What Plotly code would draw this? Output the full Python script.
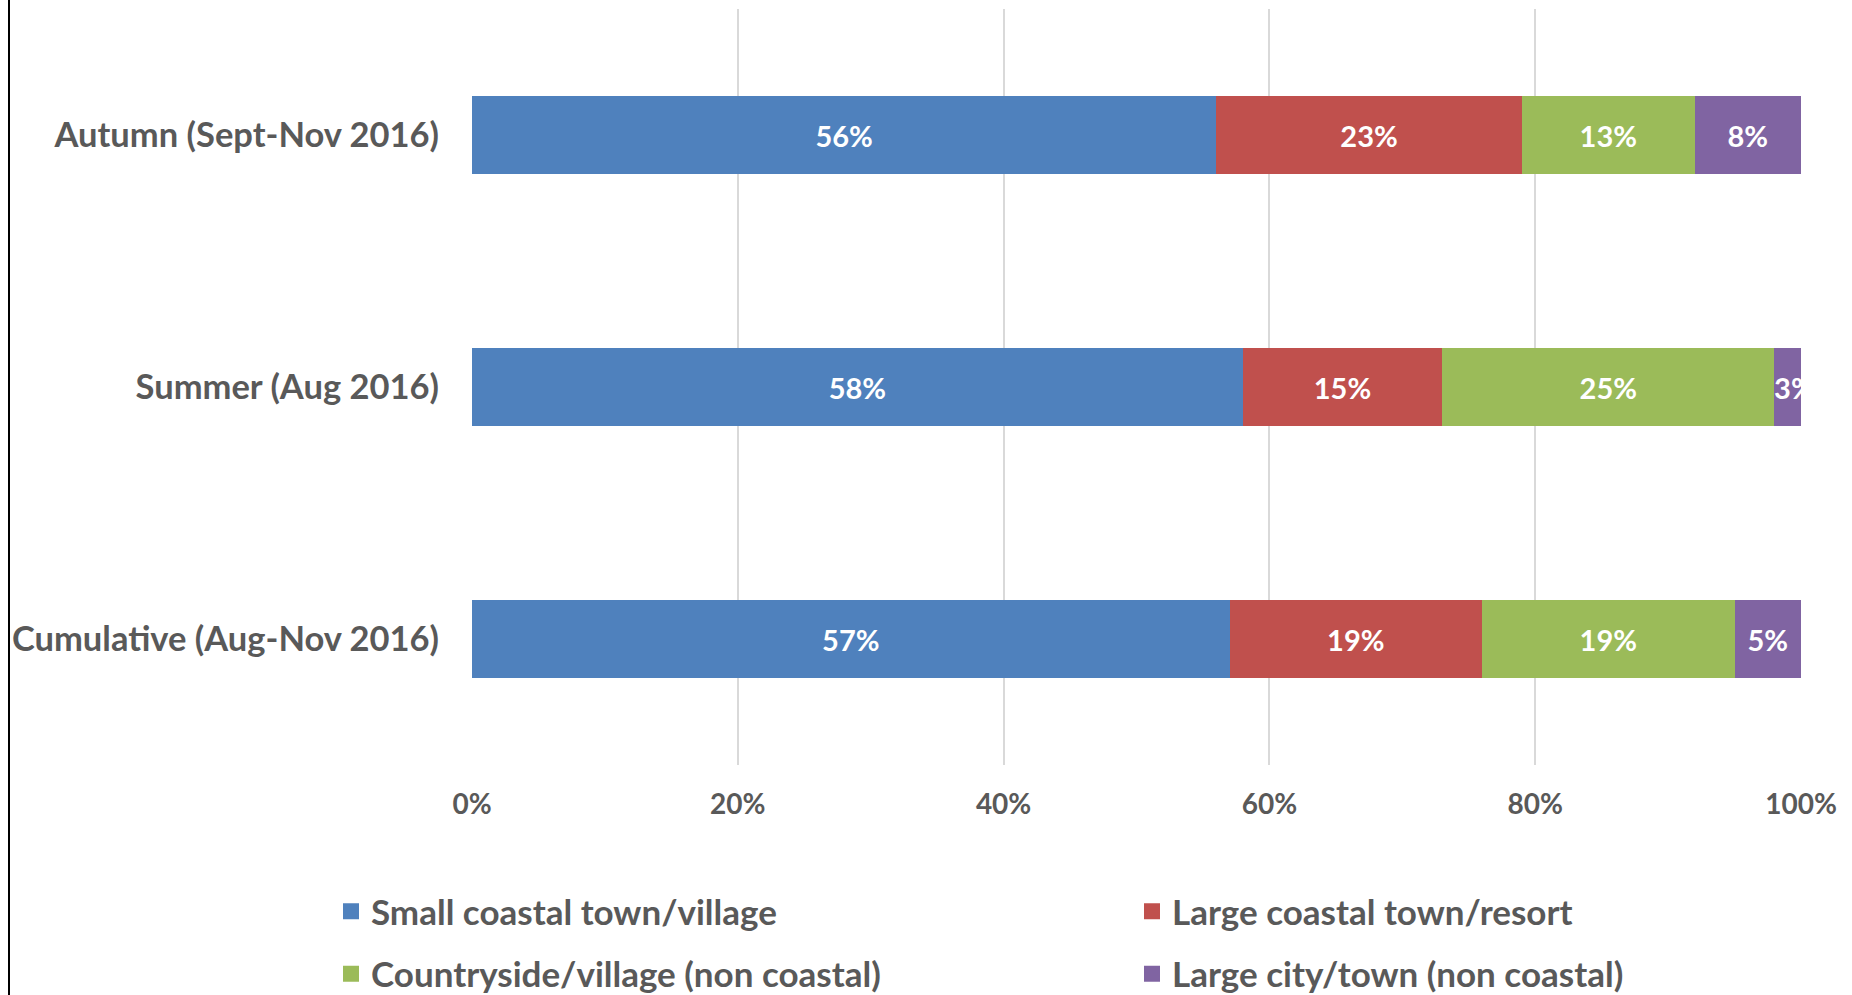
import plotly.graph_objects as go

categories = ["Autumn (Sept-Nov 2016)", "Summer (Aug 2016)", "Cumulative (Aug-Nov 2016)"]
series_names = [
    "Small coastal town/village",
    "Large coastal town/resort",
    "Countryside/village (non coastal)",
    "Large city/town (non coastal)",
]
small_coastal = [56, 58, 57]
large_coastal = [23, 15, 19]
countryside = [13, 25, 19]
large_city = [8, 3, 5]
tick_values = [0, 20, 40, 60, 80, 100]
tick_labels = ["0%", "20%", "40%", "60%", "80%", "100%"]

colors = ["#4F81BD", "#C0504D", "#9BBB59", "#8064A2"]
FONT = "Lato"
TEXT_COLOR = "#595959"

fig = go.Figure()
all_series = [small_coastal, large_coastal, countryside, large_city]
legends = ["legend", "legend2", "legend", "legend2"]
for name, vals, col in zip(series_names, all_series, colors):
    fig.add_trace(go.Bar(
        y=categories, x=vals, name=name, orientation="h",
        marker=dict(color=col, line=dict(width=0)),
        text=[f"{v}%" for v in vals], textposition="inside",
        insidetextanchor="middle", textangle=0,
        textfont=dict(family=FONT, size=29, color="white", weight="bold"),
        showlegend=False, hoverinfo="skip",
    ))
for i, (name, col, lg) in enumerate(zip(series_names, colors, legends)):
    fig.add_trace(go.Scatter(
        x=[None], y=[None], mode="markers", name=name,
        marker=dict(symbol="square", size=16, color=col),
        legend=lg, legendgroup=f"g{i}", showlegend=True,
    ))

legend_font = dict(family=FONT, size=35, color=TEXT_COLOR, weight="bold")
fig.update_layout(
    width=1852, height=995,
    margin=dict(l=472, r=51, t=9, b=230, autoexpand=False),
    barmode="stack", bargap=0.69,
    paper_bgcolor="white", plot_bgcolor="white",
    font=dict(family=FONT, color=TEXT_COLOR),
    uniformtext=dict(minsize=29, mode="show"),
    xaxis=dict(
        range=[0, 100], tickvals=tick_values, ticktext=tick_labels,
        showgrid=True, gridcolor="#D9D9D9", gridwidth=2,
        zeroline=False, showline=False, ticks="",
        tickfont=dict(family=FONT, size=28, color=TEXT_COLOR, weight="bold"),
        ticklabelstandoff=20, fixedrange=True,
    ),
    yaxis=dict(
        categoryorder="array", categoryarray=categories, autorange="reversed",
        showgrid=False, zeroline=False, showline=False, ticks="",
        tickfont=dict(family=FONT, size=34.5, color=TEXT_COLOR, weight="bold"),
        ticklabelstandoff=32, fixedrange=True,
    ),
    legend=dict(
        x=(331 - 472) / 1329, y=(765 - 882) / 756, xanchor="left", yanchor="top",
        orientation="v", tracegroupgap=14, bgcolor="rgba(0,0,0,0)",
        font=legend_font,
    ),
    legend2=dict(
        x=(1132 - 472) / 1329, y=(765 - 882) / 756, xanchor="left", yanchor="top",
        orientation="v", tracegroupgap=14, bgcolor="rgba(0,0,0,0)",
        font=legend_font,
    ),
    shapes=[dict(
        type="line", xref="paper", yref="paper",
        x0=(9 - 472) / 1329, x1=(9 - 472) / 1329,
        y0=-300 / 756, y1=(756 + 9) / 756,
        line=dict(color="black", width=2),
    )],
    showlegend=True,
)

fig.write_html("out.html")
